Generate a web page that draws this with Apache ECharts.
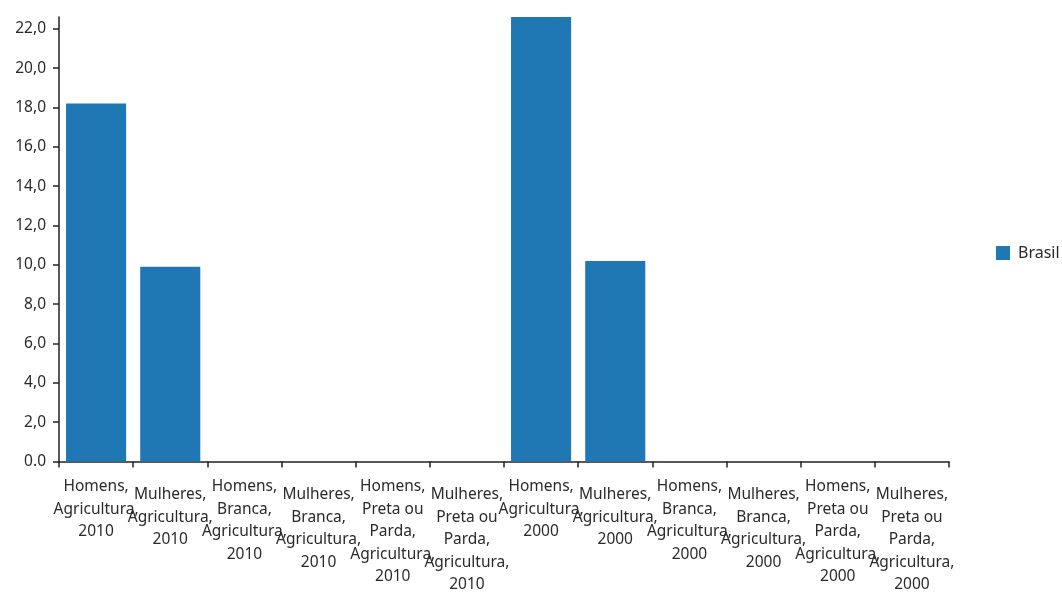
<!DOCTYPE html>
<html>
<head>
<meta charset="utf-8">
<script src="https://cdn.jsdelivr.net/npm/echarts@6/dist/echarts.min.js"></script>
<style>
html,body{margin:0;padding:0;background:#fff;}
#chart{width:1062px;height:596px;}
</style>
</head>
<body>
<div id="chart"></div>
<script>
var categories = [
  ["Homens,", "Agricultura,", "2010"],
  ["Mulheres,", "Agricultura,", "2010"],
  ["Homens,", "Branca,", "Agricultura,", "2010"],
  ["Mulheres,", "Branca,", "Agricultura,", "2010"],
  ["Homens,", "Preta ou", "Parda,", "Agricultura,", "2010"],
  ["Mulheres,", "Preta ou", "Parda,", "Agricultura,", "2010"],
  ["Homens,", "Agricultura,", "2000"],
  ["Mulheres,", "Agricultura,", "2000"],
  ["Homens,", "Branca,", "Agricultura,", "2000"],
  ["Mulheres,", "Branca,", "Agricultura,", "2000"],
  ["Homens,", "Preta ou", "Parda,", "Agricultura,", "2000"],
  ["Mulheres,", "Preta ou", "Parda,", "Agricultura,", "2000"]
];
var seriesName = "Brasil";
var brasilValues = [18.2, 9.9, null, null, null, null, 22.6, 10.2, null, null, null, null];
var yMax = 22.6;

var catNames = categories.map(function (c) { return c.join(" "); });
var FONT = "'Source Sans Pro','Noto Sans',sans-serif";

var chart = echarts.init(document.getElementById('chart'), null, {renderer: 'canvas'});
chart.setOption({
  animation: false,
  textStyle: {fontFamily: FONT},
  grid: {left: 59, right: 113, top: 17, bottom: 132.5, containLabel: false},
  legend: {
    data: [seriesName],
    orient: 'vertical',
    left: 996, top: 245, padding: 0,
    itemWidth: 14, itemHeight: 14, itemGap: 5,
    icon: 'rect',
    textStyle: {fontFamily: FONT, fontSize: 16, color: '#2a2a2a', padding: [0, 0, 0, 3]}
  },
  xAxis: {
    type: 'category',
    data: catNames,
    axisLine: {lineStyle: {color: '#222', width: 1.5}},
    axisTick: {show: true, alignWithLabel: false, length: 6, lineStyle: {color: '#222', width: 1.5}},
    axisLabel: {
      interval: 0,
      margin: 14,
      color: '#2a2a2a',
      fontFamily: FONT,
      fontSize: 15.5,
      lineHeight: 22.5,
      formatter: function (v, i) {
        var lines = categories[i].map(function (s) { return '{a|' + s + '}'; });
        if (i % 2 === 1) lines.unshift('{s| }');
        return lines.join('\n');
      },
      rich: {
        a: {fontFamily: FONT, fontSize: 15.5, lineHeight: 22.5, color: '#2a2a2a'},
        s: {fontSize: 4, lineHeight: 8}
      }
    }
  },
  yAxis: {
    type: 'value',
    min: 0, max: yMax, interval: 2,
    splitLine: {show: false},
    axisLine: {show: true, lineStyle: {color: '#222', width: 1.5}},
    axisTick: {show: true, length: 6, lineStyle: {color: '#222', width: 1.5}},
    axisLabel: {
      showMaxLabel: false,
      margin: 13,
      color: '#2a2a2a',
      fontFamily: FONT,
      fontSize: 15.5,
      formatter: function (v) {
        if (v === 0) return '0.0';
        return v.toFixed(1).replace('.', ',');
      }
    }
  },
  series: [{
    name: seriesName,
    type: 'bar',
    data: brasilValues,
    barCategoryGap: '19%',
    itemStyle: {color: '#1f77b4'}
  }]
});
</script>
</body>
</html>
